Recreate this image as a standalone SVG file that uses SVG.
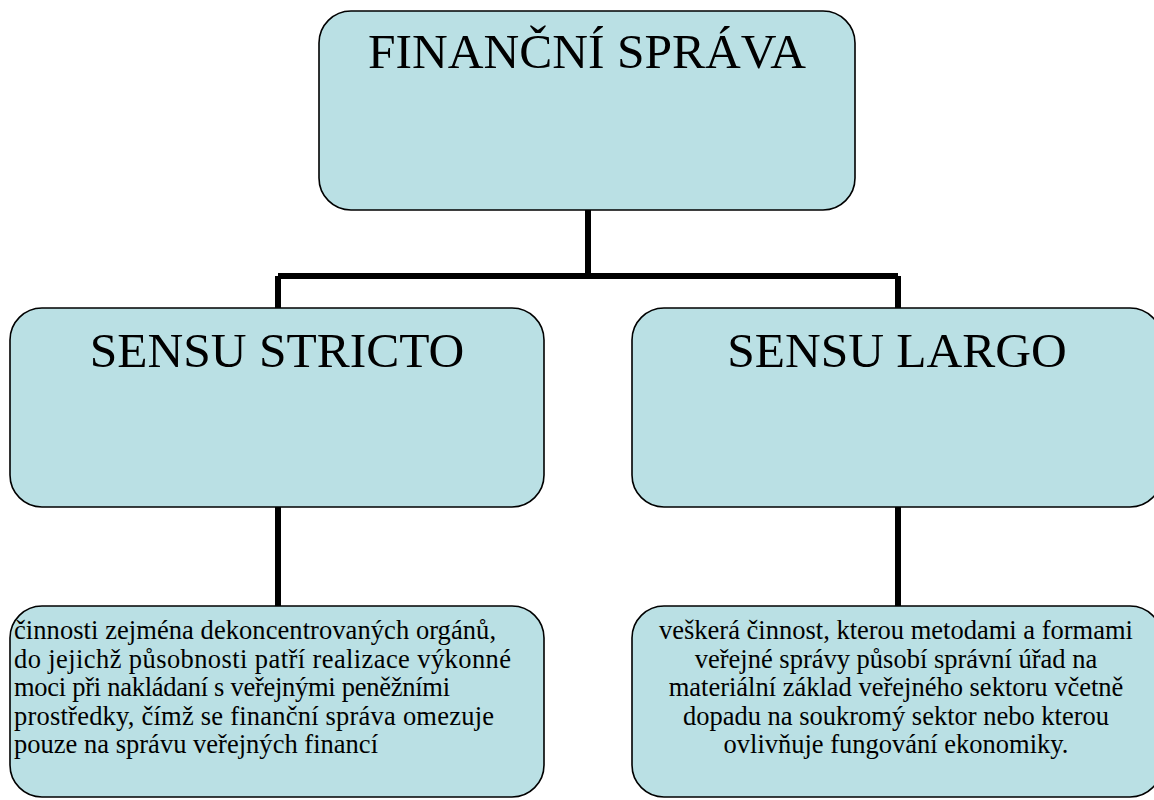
<svg xmlns="http://www.w3.org/2000/svg" width="1154" height="800" viewBox="0 0 1154 800">
<style>
.box{fill:#BAE0E4;stroke:#000;stroke-width:1.6}
.conn{fill:none;stroke:#000;stroke-width:6}
text{font-family:'Liberation Serif','DejaVu Serif',serif;fill:#000}
.h{font-size:49.5px;text-anchor:middle}
.b{font-size:26.5px}
.c{text-anchor:middle}
</style>
<rect width="1154" height="800" fill="#fff"/>
<g id="connectors">
<path class="conn" d="M588 210V276M278 276H898M278 276V308M898 276V308M278 507V606M898 507V606"/>
</g>
<g id="financni-sprava">
<rect class="box" x="319" y="11" width="536" height="199" rx="32"/>
<text class="h" x="587" y="68">FINANČNÍ SPRÁVA</text>
</g>
<g id="sensu-stricto">
<rect class="box" x="10" y="308" width="534" height="199" rx="32"/>
<text class="h" x="277" y="367">SENSU STRICTO</text>
</g>
<g id="sensu-largo">
<rect class="box" x="632" y="308" width="530" height="199" rx="32"/>
<text class="h" x="897" y="367">SENSU LARGO</text>
</g>
<g id="stricto-desc">
<rect class="box" x="10" y="606" width="534" height="191" rx="32"/>
<text class="b" x="14" y="639" textLength="482" lengthAdjust="spacing">činnosti zejména dekoncentrovaných orgánů,</text>
<text class="b" x="14" y="667.5" textLength="497" lengthAdjust="spacing">do jejichž působnosti patří realizace výkonné</text>
<text class="b" x="14" y="696" textLength="436" lengthAdjust="spacing">moci při nakládaní s veřejnými peněžními</text>
<text class="b" x="14" y="724.5" textLength="480" lengthAdjust="spacing">prostředky, čímž se finanční správa omezuje</text>
<text class="b" x="14" y="753" textLength="364" lengthAdjust="spacing">pouze na správu veřejných financí</text>
</g>
<g id="largo-desc">
<rect class="box" x="632" y="606" width="530" height="191" rx="32"/>
<text class="b c" x="896" y="639">veškerá činnost, kterou metodami a formami</text>
<text class="b c" x="896" y="667.5">veřejné správy působí správní úřad na</text>
<text class="b c" x="896" y="696">materiální základ veřejného sektoru včetně</text>
<text class="b c" x="896" y="724.5">dopadu na soukromý sektor nebo kterou</text>
<text class="b c" x="896" y="753">ovlivňuje fungování ekonomiky.</text>
</g>
</svg>
